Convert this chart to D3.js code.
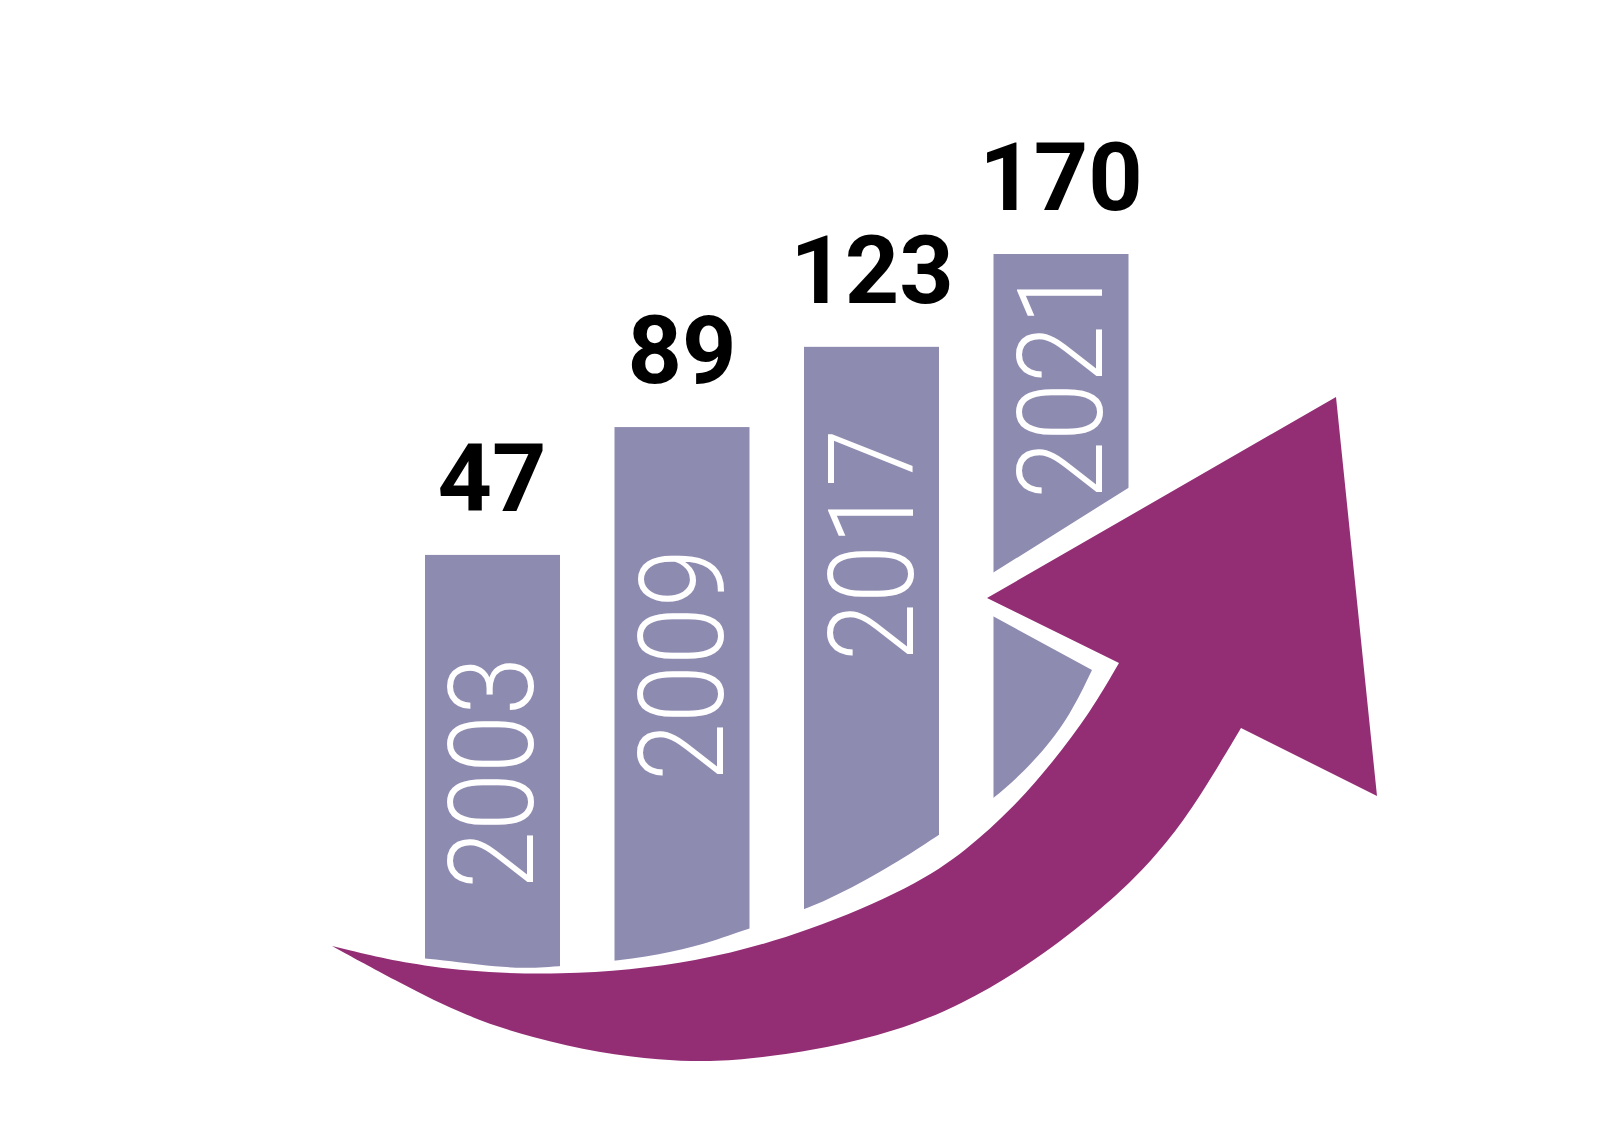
<!DOCTYPE html>
<html>
<head>
<meta charset="utf-8">
<script src="https://cdn.jsdelivr.net/npm/d3@7"></script>
<style>
  html, body { margin: 0; padding: 0; background: #ffffff; }
  svg { display: block; }
</style>
</head>
<body>
<svg id="chart" width="1600" height="1132"></svg>
<script>
// ---- data ----
const years = ["2003", "2009", "2017", "2021"];
const values = [47, 89, 123, 170];
const valueLabels = ["47", "89", "123", "170"];

// ---- layout (not data) ----
const W = 1600, H = 1132;
const barColor = "#8e8bb0";
const arrowColor = "#932e75";
// how far above the baseline each rotated year label starts
const yearLift = [50, 158, 278, 440];

// arrow decoration geometry
const arrowTop = [[332,946],[425,969],[560,977],[700,963],[810,931],[913,887],[967,850],[1013,808],[1053,762],[1090,713],[1119,663]];
const arrowHead = [[987,598],[1336,397],[1377,796],[1241,728]];
const arrowBottom = [[1241,728],[1200,797],[1167,843],[1133,880],[1100,910],[1037,960],[960,1006],[893,1032],[827,1048],[760,1058],[710,1062],[660,1060],[600,1053],[533,1038],[467,1017],[400,983],[332,946]];
// the white cut the bars stop at (gap around the arrow)
const cutCorner = [[0,0],[1200,0],[1200,443],[956,596],[1092,670]];
const cutCurve = [[1092,670],[1071,714],[1041,755],[993,801],[944,831],[918,849],[867,880],[809,909],[750,928],[714,941],[673,952],[619,961],[560,966],[525,969],[480,965],[425,958],[330,950]];

const svg = d3.select("#chart");
svg.append("rect").attr("width", W).attr("height", H).attr("fill", "#ffffff");

const xScale = d3.scaleBand().domain(years).range([425, 1128.5]).paddingInner(0.2876).paddingOuter(0);
const yScale = d3.scalePow().exponent(0.45).domain([0, d3.max(values)]).range([939, 254]);

// value labels
years.forEach((d, i) => {
  svg.append("text")
    .attr("x", Math.round(xScale(d) + xScale.bandwidth() / 2))
    .attr("y", Math.round(yScale(values[i]) - 44))
    .attr("text-anchor", "middle")
    .style("font-family", '"Roboto"')
    .style("font-weight", 700)
    .style("font-size", "95px")
    .text(valueLabels[i]);
});

const smooth = d3.line().curve(d3.curveBasis);
const clipD = d3.line()(cutCorner) + smooth(cutCurve).replace(/^M/, "L") + "L0,950Z";
svg.append("defs").append("clipPath").attr("id", "barClip")
  .append("path").attr("d", clipD);

// bars
svg.append("g").attr("clip-path", "url(#barClip)")
  .selectAll("rect").data(years).join("rect")
  .attr("x", d => xScale(d))
  .attr("y", (d, i) => yScale(values[i]))
  .attr("width", xScale.bandwidth())
  .attr("height", (d, i) => yScale(0) + 80 - yScale(values[i]))
  .attr("fill", barColor);

// year labels inside bars (rotated)
years.forEach((d, i) => {
  svg.append("text")
    .attr("transform", `translate(${Math.round(xScale(d) + xScale.bandwidth() / 2 + 41)},${Math.round(yScale(0) - yearLift[i])}) rotate(-90)`)
    .style("font-family", '"Roboto"')
    .style("font-weight", 300)
    .style("font-size", "118px")
    .attr("textLength", 232)
    .attr("lengthAdjust", "spacingAndGlyphs")
    .attr("fill", "#ffffff")
    .text(d);
});

// arrow
const topPath = smooth(arrowTop);
const headPath = arrowHead.map(p => "L" + p[0] + "," + p[1]).join("");
const bottomPath = smooth(arrowBottom).replace(/^M/, "L");
svg.append("path")
  .attr("d", topPath + headPath + bottomPath + "Z")
  .attr("fill", arrowColor);
</script>
</body>
</html>
